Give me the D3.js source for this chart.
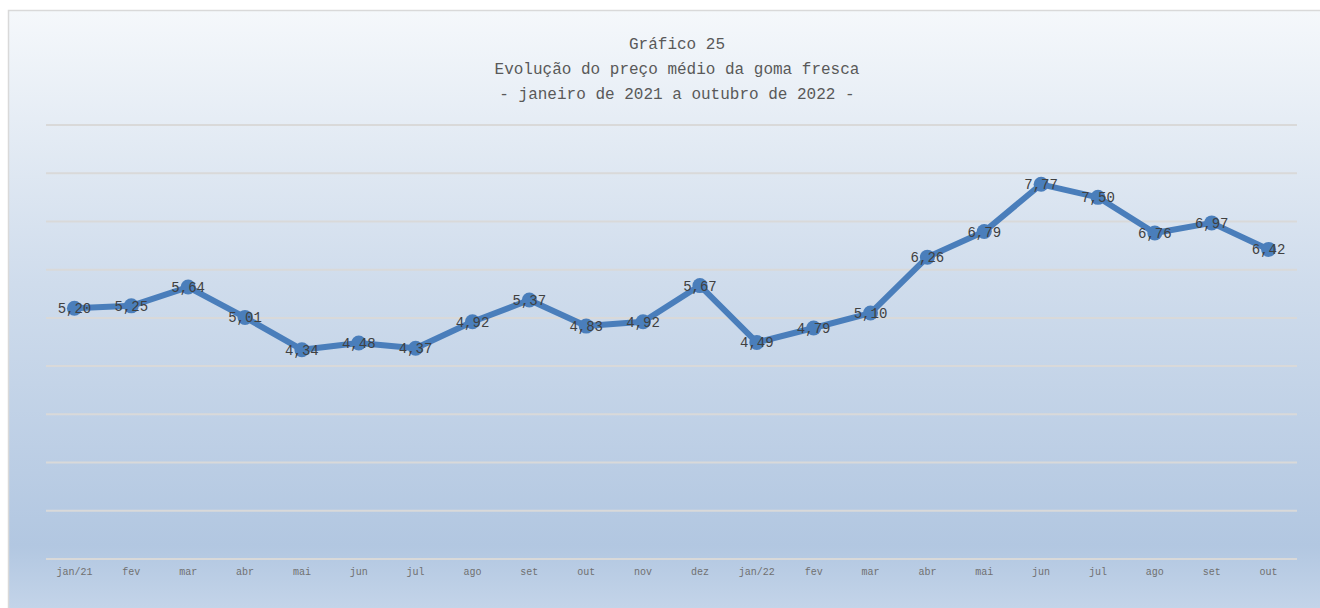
<!DOCTYPE html>
<html>
  <head>
    <meta charset="utf-8">
    <script src="https://d3js.org/d3.v7.min.js"></script>
    <title>Gráfico 25</title>
    <style>
      body { margin: 0; background: #fff; }
      svg { display: block; }
      .title { font-family: "Liberation Mono", monospace; font-size: 16px; fill: #595959; }
      .lbl { font-family: "Liberation Mono", monospace; font-size: 14px; fill: #404040; }
      .tick text { font-family: "Liberation Mono", monospace; font-size: 10px; fill: #707070; }
    </style>
  </head>
  <body>
    <div id="chart"></div>
    <script>
      // chart data
      const months = ["jan/21", "fev", "mar", "abr", "mai", "jun", "jul", "ago", "set", "out", "nov", "dez",
                      "jan/22", "fev", "mar", "abr", "mai", "jun", "jul", "ago", "set", "out"];
      const prices = [5.20, 5.25, 5.64, 5.01, 4.34, 4.48, 4.37, 4.92, 5.37, 4.83, 4.92, 5.67,
                      4.49, 4.79, 5.10, 6.26, 6.79, 7.77, 7.50, 6.76, 6.97, 6.42];
      const gridValues = [0, 1, 2, 3, 4, 5, 6, 7, 8, 9];
      const titleLines = ["Gráfico 25", "Evolução do preço médio da goma fresca", "- janeiro de 2021 a outubro de 2022 -"];

      const W = 1320, H = 608;
      const svg = d3.select("#chart").append("svg").attr("width", W).attr("height", H);

      // background gradient
      const grad = svg.append("defs").append("linearGradient")
        .attr("id", "bg").attr("x1", 0).attr("y1", 0).attr("x2", 0).attr("y2", 1);
      grad.append("stop").attr("offset", "0%").attr("stop-color", "#f5f8fb");
      grad.append("stop").attr("offset", "45%").attr("stop-color", "#cfdcec");
      grad.append("stop").attr("offset", "88%").attr("stop-color", "#b2c7e1");
      grad.append("stop").attr("offset", "100%").attr("stop-color", "#c6d6ea");

      svg.append("rect")
        .attr("x", 8.5).attr("y", 10.5).attr("width", W).attr("height", H)
        .attr("fill", "url(#bg)").attr("stroke", "#d9d9d9").attr("stroke-width", 1.5);

      // titles
      svg.selectAll(".title").data(titleLines).enter().append("text")
        .attr("class", "title")
        .attr("x", 677).attr("y", (d, i) => 49 + i * 25)
        .attr("text-anchor", "middle")
        .text(d => d);

      const x = d3.scaleBand().domain(d3.range(months.length)).range([46, 1297]);
      const y = d3.scaleLinear().domain([0, 9]).range([559, 125]);

      // gridlines
      svg.append("g").selectAll("line").data(gridValues).enter().append("line")
        .attr("x1", 46).attr("x2", 1297)
        .attr("y1", d => y(d)).attr("y2", d => y(d))
        .attr("stroke", "#d9d9d9").attr("stroke-width", 2);

      // x axis
      const xAxis = svg.append("g").attr("transform", "translate(0,559)")
        .call(d3.axisBottom(x).tickSize(0).tickPadding(9).tickFormat(i => months[i]));
      xAxis.select(".domain").remove();

      const cx = i => x(i) + x.bandwidth() / 2;

      // line
      svg.append("path").datum(prices)
        .attr("fill", "none").attr("stroke", "#4a7ebb").attr("stroke-width", 6)
        .attr("stroke-linejoin", "round")
        .attr("d", d3.line().x((d, i) => cx(i)).y(d => y(d)));

      svg.append("g").selectAll("circle").data(prices).enter().append("circle")
        .attr("cx", (d, i) => cx(i)).attr("cy", d => y(d)).attr("r", 7.5)
        .attr("fill", "#4a7ebb");

      // data labels
      svg.append("g").selectAll("text").data(prices).enter().append("text")
        .attr("class", "lbl")
        .attr("x", (d, i) => cx(i)).attr("y", d => y(d) + 5)
        .attr("text-anchor", "middle")
        .text(d => d.toFixed(2).replace(".", ","));
    </script>
  </body>
</html>
